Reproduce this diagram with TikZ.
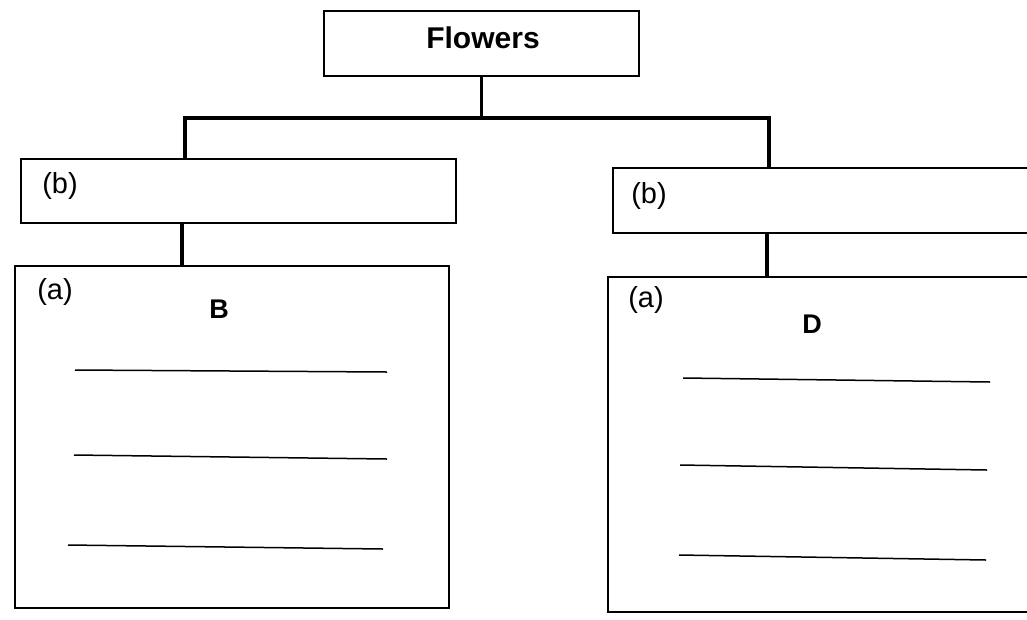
\documentclass[tikz,border=0pt]{standalone}
\usepackage{fontspec}
\setmainfont{Liberation Sans}
\begin{document}
\begin{tikzpicture}[x=1pt,y=-1pt,
  box/.style={draw=black, line width=1.6pt, rectangle, inner sep=0pt, anchor=north west},
  conn/.style={draw=black, line width=3.6pt},
  rule/.style={draw=black, line width=1.5pt},
  lbl/.style={inner sep=0pt, font=\fontsize{29}{33}\selectfont},
  head/.style={inner sep=0pt, font=\fontsize{30}{34}\selectfont\bfseries},
  letter/.style={inner sep=0pt, font=\fontsize{27}{31}\selectfont\bfseries}]
  \useasboundingbox (0,0) rectangle (1027,619);
  \clip (0,0) rectangle (1027,619);
  \fill[white] (0,0) rectangle (1027,619);

  % boxes
  \node[box, minimum width=315pt, minimum height=65pt] (top) at (323,10) {};
  \node[box, minimum width=435pt, minimum height=64pt] (lb) at (20,158) {};
  \node[box, minimum width=450pt, minimum height=65pt] (rb) at (612,167) {};
  \node[box, minimum width=434pt, minimum height=342pt] (la) at (14,265) {};
  \node[box, minimum width=440pt, minimum height=335pt] (ra) at (607,276) {};

  % texts
  \node[head] (tflowers) at (483,38) {Flowers};
  \node[lbl] (tlb) at (60,186) {(b)};
  \node[lbl] (trb) at (649,196) {(b)};
  \node[lbl] (tla) at (55,292) {(a)};
  \node[lbl] (tra) at (646,300) {(a)};
  \node[letter] (tB) at (219,309) {B};
  \node[letter] (tD) at (812,324) {D};

  % connectors
  \coordinate (jl) at (185,118);
  \coordinate (jr) at (769,118);
  \coordinate (cl) at (182,0);
  \coordinate (cr) at (767,0);
  \draw[conn] (top.south) -- (top.south |- jl);
  \draw[conn] (jl |- lb.north) -- (jl) -- (jr) -- (jr |- rb.north);
  \draw[conn] (cl |- lb.south) -- (cl |- la.north);
  \draw[conn] (cr |- rb.south) -- (cr |- ra.north);

  % writing lines
  \draw[rule] (75,370) -- (387,372);
  \draw[rule] (74,455) -- (387,459);
  \draw[rule] (68,545) -- (383,549);
  \draw[rule] (683,378) -- (990,382);
  \draw[rule] (680,465) -- (987,470);
  \draw[rule] (679,555) -- (986,560);
\end{tikzpicture}
\end{document}
